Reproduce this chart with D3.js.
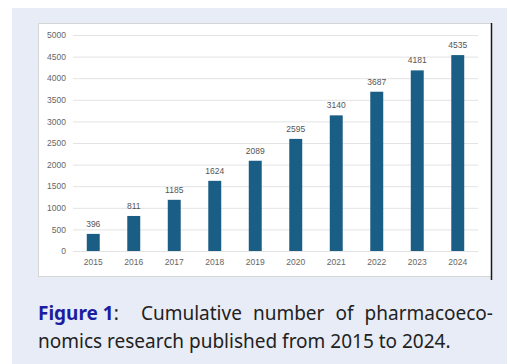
<!DOCTYPE html>
<html>
<head>
<script src="https://d3js.org/d3.v7.min.js"></script>
<style>
  body { margin: 0; background: #fff; }
  svg { display: block; }
  .tick-label { font-family: "Liberation Sans", Arial, sans-serif; font-size: 8.5px; fill: #666; }
  .value-label { font-family: "Liberation Sans", Arial, sans-serif; font-size: 8.5px; fill: #555; }
  .caption { font-family: "Noto Sans", sans-serif; font-size: 19px; fill: #222; }
</style>
</head>
<body>
<svg id="chart" width="507" height="364"></svg>
<script>
// data
const years = ['2015','2016','2017','2018','2019','2020','2021','2022','2023','2024'];
const counts = [396, 811, 1185, 1624, 2089, 2595, 3140, 3687, 4181, 4535];
const yTicks = [0, 500, 1000, 1500, 2000, 2500, 3000, 3500, 4000, 4500, 5000];

const svg = d3.select('#chart');

// page panel + white figure box
svg.append('rect').attr('x', 12).attr('y', 8).attr('width', 495).attr('height', 356).attr('fill', '#e8ecf6');
svg.append('rect').attr('x', 38.5).attr('y', 23.5).attr('width', 453).attr('height', 253)
   .attr('fill', '#fff').attr('stroke', '#d6d6d6');
svg.append('line').attr('x1', 491.5).attr('x2', 491.5).attr('y1', 23).attr('y2', 280)
   .attr('stroke', '#1a1a1a').attr('stroke-width', 1.5);

const plotL = 73, plotR = 478, plotT = 35, plotB = 251;

const x = d3.scaleBand().domain(years).range([plotL, plotR]).paddingInner(0.68).paddingOuter(0.34);
const y = d3.scaleLinear().domain([0, 5000]).range([plotB, plotT]);

// gridlines
const grid = svg.append('g').attr('transform', `translate(${plotL},0)`)
  .call(d3.axisLeft(y).tickValues(yTicks).tickSize(-(plotR - plotL)).tickFormat(''));
grid.select('.domain').remove();
grid.selectAll('line').attr('stroke', '#e3e3e3');

// y tick labels
const yAxis = svg.append('g').attr('transform', `translate(${plotL},0)`)
  .call(d3.axisLeft(y).tickValues(yTicks).tickFormat(d3.format('d')).tickSize(0).tickPadding(7));
yAxis.select('.domain').remove();
yAxis.attr('font-size', null).attr('font-family', null);
yAxis.selectAll('text').attr('class', 'tick-label').attr('fill', null);

// x labels
const xAxis = svg.append('g').attr('transform', `translate(0,${plotB})`)
  .call(d3.axisBottom(x).tickSize(0).tickPadding(8));
xAxis.select('.domain').remove();
xAxis.attr('font-size', null).attr('font-family', null);
xAxis.selectAll('text').attr('class', 'tick-label').attr('fill', null);

const data = years.map((yr, i) => ({ year: yr, value: counts[i] }));

svg.append('g').selectAll('rect').data(data).enter().append('rect')
  .attr('x', d => x(d.year))
  .attr('width', x.bandwidth())
  .attr('y', d => y(d.value))
  .attr('height', d => plotB - y(d.value))
  .attr('fill', '#1b5e85');

svg.append('g').selectAll('text').data(data).enter().append('text')
  .attr('class', 'value-label')
  .attr('x', d => x(d.year) + x.bandwidth() / 2)
  .attr('y', d => y(d.value) - 7)
  .attr('text-anchor', 'middle')
  .text(d => d.value);

// caption, first line justified
const capLeft = 38, capRight = 493;
const line1 = svg.append('text').attr('class', 'caption').attr('x', capLeft).attr('y', 320)
  .style('white-space', 'pre');
line1.append('tspan').attr('font-weight', 'bold').attr('fill', '#1c1ca0').text('Figure 1');
const rest = line1.append('tspan').text(':  Cumulative number of pharmacoeco-');
const natural = line1.node().getComputedTextLength();
rest.style('word-spacing', Math.max(0, (capRight - capLeft - natural) / 5) + 'px');

svg.append('text').attr('class', 'caption').attr('x', capLeft).attr('y', 348)
  .text('nomics research published from 2015 to 2024.');
</script>
</body>
</html>
